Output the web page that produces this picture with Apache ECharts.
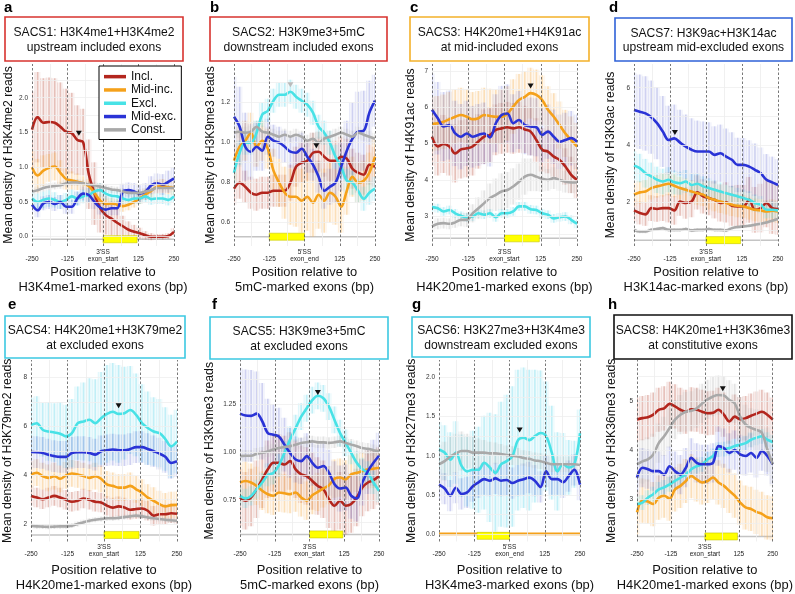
<!DOCTYPE html>
<html>
<head>
<meta charset="utf-8">
<script src="https://cdn.jsdelivr.net/npm/echarts@6.0.0/dist/echarts.min.js"></script>
<style>
html, body { margin: 0; padding: 0; background: #fff; }
#main { width: 795px; height: 594px; }
</style>
</head>
<body>
<div id="main"></div>
<script>
// positions (bp) of every sample along the exon window
var X = [-250,-230,-210,-190,-170,-150,-130,-110,-90,-70,-50,-30,-10,10,30,50,70,90,110,130,150,170,190,210,230,250];

// a - SACS1
var aIncl   = [1.54,1.72,1.64,1.65,1.64,1.58,1.51,1.49,1.39,1.36,0.9,0.62,0.41,0.31,0.26,0.2,0.15,0.1,0.07,0.05,0.02,0.0,0.0,0.0,0.01,0.07];
var aMidinc = [1.0,0.88,0.95,0.99,1.01,0.92,0.83,0.81,0.79,0.77,0.73,0.63,0.52,0.47,0.48,0.46,0.44,0.46,0.5,0.55,0.61,0.66,0.72,0.73,0.71,0.7];
var aExcl   = [0.55,0.5,0.53,0.55,0.53,0.5,0.53,0.58,0.55,0.58,0.6,0.65,0.67,0.62,0.59,0.58,0.55,0.53,0.55,0.55,0.58,0.54,0.55,0.55,0.53,0.58];
var aMidexc = [0.46,0.38,0.48,0.5,0.47,0.5,0.43,0.43,0.55,0.62,0.6,0.5,0.42,0.39,0.41,0.41,0.65,0.67,0.65,0.62,0.65,0.74,0.77,0.75,0.79,0.84];
var aConst  = [0.65,0.67,0.7,0.72,0.73,0.74,0.77,0.78,0.78,0.77,0.75,0.74,0.72,0.7,0.68,0.67,0.65,0.63,0.63,0.63,0.65,0.67,0.7,0.7,0.7,0.7];
var aInclErr   = [0.55,0.65,0.64,0.64,0.64,0.64,0.62,0.58,0.5,0.48,0.5,0.45,0.35,0.28,0.24,0.2,0.15,0.12,0.1,0.08,0.06,0.05,0.04,0.04,0.04,0.05];
var aMidincErr = [0.25,0.24,0.22,0.2,0.2,0.18,0.15,0.13,0.12,0.1,0.1,0.1,0.09,0.08,0.08,0.08,0.08,0.08,0.08,0.08,0.08,0.09,0.1,0.1,0.1,0.1];
var aExclErr   = [0.12,0.12,0.12,0.12,0.11,0.1,0.1,0.1,0.1,0.1,0.1,0.1,0.1,0.09,0.09,0.09,0.08,0.08,0.08,0.08,0.08,0.08,0.08,0.08,0.08,0.08];
var aMidexcErr = [0.1,0.1,0.1,0.1,0.1,0.1,0.1,0.1,0.1,0.1,0.1,0.1,0.1,0.1,0.1,0.1,0.11,0.11,0.12,0.12,0.12,0.13,0.14,0.15,0.16,0.16];
var aConstErr  = [0.05,0.05,0.05,0.05,0.05,0.05,0.05,0.05,0.05,0.05,0.05,0.05,0.05,0.05,0.05,0.05,0.05,0.05,0.05,0.05,0.05,0.05,0.05,0.05,0.05,0.05];

// b - SACS2
var bIncl   = [0.77,0.8,0.78,0.75,0.74,0.75,0.75,0.76,0.76,0.76,0.8,0.88,0.9,0.91,0.95,0.955,0.93,0.91,0.91,0.93,0.92,0.87,0.85,0.84,0.89,0.88];
var bMidinc = [0.91,0.98,1.01,1.05,0.98,1.01,0.97,0.86,0.8,0.75,0.73,0.73,0.71,0.73,0.7,0.74,0.71,0.75,0.73,0.68,0.76,0.83,0.8,0.81,0.85,0.93];
var bExcl   = [0.85,0.95,1.0,1.0,1.05,1.14,1.16,1.21,1.24,1.24,1.255,1.23,1.21,1.19,1.15,1.08,1.05,1.0,0.93,0.88,0.81,0.8,0.76,0.72,0.75,0.77];
var bMidexc = [1.13,1.08,0.98,0.955,0.98,0.96,1.03,1.01,1.0,0.98,0.955,0.95,0.97,0.93,0.89,0.83,0.76,0.78,0.8,0.88,0.96,1.02,1.055,1.06,1.15,1.21];
var bConst  = [1.05,1.055,1.05,1.055,1.08,1.055,1.05,1.04,1.03,1.04,1.03,1.04,1.03,1.01,1.02,1.0,1.02,1.03,1.04,1.05,1.04,1.03,1.05,1.04,1.03,1.02];
var bInclErr   = [0.08,0.08,0.08,0.08,0.08,0.08,0.08,0.08,0.08,0.08,0.09,0.1,0.1,0.1,0.1,0.1,0.1,0.1,0.1,0.1,0.1,0.1,0.1,0.1,0.1,0.1];
var bMidincErr = [0.1,0.1,0.1,0.1,0.1,0.1,0.1,0.11,0.12,0.13,0.14,0.15,0.16,0.17,0.17,0.17,0.16,0.15,0.14,0.13,0.12,0.1,0.1,0.1,0.1,0.1];
var bExclErr   = [0.06,0.06,0.06,0.06,0.06,0.06,0.06,0.06,0.06,0.06,0.06,0.06,0.06,0.06,0.06,0.06,0.06,0.06,0.06,0.06,0.06,0.06,0.06,0.06,0.06,0.06];
var bMidexcErr = [0.2,0.2,0.17,0.14,0.12,0.1,0.09,0.08,0.08,0.08,0.08,0.08,0.08,0.08,0.08,0.08,0.09,0.09,0.1,0.12,0.15,0.18,0.2,0.2,0.16,0.13];
var bConstErr  = [0.03,0.03,0.03,0.03,0.03,0.03,0.03,0.03,0.03,0.03,0.03,0.03,0.03,0.03,0.03,0.03,0.03,0.03,0.03,0.03,0.03,0.03,0.03,0.03,0.03,0.03];

// c - SACS3
var cIncl   = [5.19,4.92,4.99,4.92,4.73,4.84,4.87,4.92,5.06,5.19,5.24,5.38,5.42,5.45,5.42,5.45,5.39,5.33,5.1,4.83,4.78,4.64,4.55,4.37,4.14,4.0];
var cMidinc = [5.54,5.56,5.6,5.67,5.74,5.79,5.74,5.67,5.7,5.79,5.76,5.74,5.74,5.83,6.02,6.2,6.29,6.39,6.34,6.2,5.93,5.74,5.51,5.28,5.1,4.92];
var cExcl   = [3.25,3.22,3.13,3.17,3.08,3.01,2.97,2.99,3.08,3.04,3.08,2.97,3.08,3.08,3.13,3.27,3.27,3.19,3.17,3.08,3.04,2.94,2.97,2.99,2.9,2.79];
var cMidexc = [5.93,5.7,5.47,5.51,5.28,5.19,5.28,5.19,5.24,5.28,5.17,5.56,5.79,5.83,5.56,5.65,5.51,5.47,5.45,5.24,5.33,5.19,5.05,5.1,5.15,5.05];
var cConst  = [2.72,2.79,2.81,2.79,2.83,2.9,2.9,3.08,3.22,3.36,3.5,3.59,3.68,3.72,3.82,3.95,4.09,4.14,4.09,4.03,4.0,4.05,4.0,3.95,3.93,3.93];
var cInclErr   = [0.8,0.8,0.8,0.8,0.8,0.8,0.8,0.8,0.75,0.75,0.75,0.7,0.7,0.7,0.7,0.7,0.65,0.65,0.6,0.6,0.6,0.55,0.55,0.5,0.5,0.5];
var cMidincErr = [0.75,0.75,0.75,0.75,0.75,0.75,0.75,0.75,0.75,0.75,0.75,0.75,0.75,0.75,0.75,0.72,0.7,0.7,0.7,0.68,0.65,0.65,0.65,0.65,0.65,0.65];
var cExclErr   = [0.12,0.12,0.12,0.12,0.12,0.12,0.12,0.12,0.12,0.12,0.12,0.12,0.12,0.12,0.12,0.12,0.12,0.12,0.12,0.12,0.12,0.12,0.12,0.12,0.12,0.12];
var cMidexcErr = [1.0,1.0,0.95,0.95,0.9,0.9,0.9,0.85,0.85,0.85,0.8,0.8,0.8,0.8,0.8,0.8,0.8,0.8,0.8,0.75,0.75,0.75,0.75,0.75,0.75,0.75];
var cConstErr  = [0.15,0.15,0.15,0.15,0.15,0.18,0.2,0.25,0.3,0.35,0.4,0.45,0.5,0.5,0.5,0.5,0.5,0.45,0.4,0.35,0.3,0.3,0.3,0.3,0.3,0.3];

// d - SACS7
var dIncl   = [1.71,1.62,1.57,1.79,1.76,1.79,1.79,1.71,2.02,1.97,2.02,2.34,2.2,2.14,2.08,1.97,1.99,1.87,1.85,1.85,2.08,1.73,1.79,1.97,1.79,1.76];
var dMidinc = [2.26,2.34,2.37,2.49,2.55,2.6,2.64,2.57,2.49,2.43,2.37,2.31,2.26,2.14,2.08,2.02,1.97,1.91,1.87,1.85,1.79,1.73,1.71,1.67,1.7,1.67];
var dExcl   = [3.28,3.19,3.01,2.9,2.78,2.72,2.78,2.69,2.66,2.72,2.6,2.64,2.55,2.49,2.43,2.37,2.31,2.26,2.2,2.14,2.08,1.97,1.91,1.73,1.73,1.71];
var dMidexc = [5.22,5.16,5.1,4.97,4.76,4.47,4.17,4.23,4.08,3.94,3.83,3.77,3.77,3.77,3.65,3.71,3.59,3.48,3.3,3.3,3.24,3.13,3.01,2.78,2.69,2.6];
var dConst  = [1.03,0.97,0.97,1.03,1.06,1.09,1.03,1.03,1.03,1.06,1.01,1.03,1.03,1.06,1.03,1.03,1.01,1.09,1.13,1.15,1.17,1.21,1.24,1.29,1.35,1.41];
var dInclErr   = [0.4,0.4,0.4,0.45,0.45,0.45,0.5,0.5,0.5,0.55,0.55,0.6,0.6,0.6,0.65,0.65,0.7,0.7,0.75,0.75,0.8,0.8,0.85,0.85,0.9,0.9];
var dMidincErr = [0.4,0.4,0.4,0.4,0.4,0.4,0.4,0.4,0.4,0.4,0.4,0.4,0.4,0.4,0.4,0.4,0.4,0.4,0.4,0.4,0.4,0.4,0.4,0.4,0.4,0.4];
var dExclErr   = [0.5,0.5,0.5,0.48,0.46,0.45,0.44,0.42,0.4,0.4,0.38,0.36,0.35,0.34,0.33,0.32,0.3,0.3,0.3,0.3,0.3,0.3,0.3,0.3,0.3,0.3];
var dMidexcErr = [1.3,1.3,1.3,1.28,1.26,1.24,1.2,1.18,1.15,1.12,1.1,1.08,1.05,1.02,1.0,1.0,0.98,0.96,0.95,0.94,0.92,0.92,0.9,0.9,0.9,0.9];
var dConstErr  = [0.06,0.06,0.06,0.06,0.06,0.06,0.06,0.06,0.06,0.06,0.06,0.06,0.06,0.06,0.06,0.06,0.06,0.06,0.06,0.06,0.06,0.06,0.06,0.06,0.06,0.06];

// e - SACS4
var eIncl   = [3.15,3.08,3.01,3.08,3.15,3.08,2.99,2.91,2.95,3.04,2.99,2.91,2.88,2.75,2.67,2.72,2.67,2.58,2.61,2.63,2.54,2.34,2.4,2.4,2.44,2.42];
var eMidinc = [4.03,4.1,3.96,3.89,3.96,3.85,3.99,4.07,4.03,3.96,3.89,3.96,3.85,3.62,3.56,3.49,3.49,3.56,3.42,3.28,3.08,2.95,2.81,2.72,2.77,2.78];
var eExcl   = [6.06,6.13,5.86,5.79,5.75,5.7,5.59,5.72,6.13,6.2,6.27,6.13,6.33,6.51,6.6,6.51,6.54,6.67,6.47,6.13,5.93,5.79,5.72,5.48,5.18,5.38];
var eMidexc = [4.95,4.94,4.91,4.84,4.78,4.75,4.75,4.91,4.94,4.94,4.91,4.84,4.98,5.02,5.05,5.02,5.02,5.07,5.15,5.15,5.07,4.98,4.88,4.75,4.5,4.57];
var eConst  = [1.93,1.9,1.89,1.88,1.89,1.9,1.9,1.93,2.0,2.07,2.13,2.17,2.2,2.23,2.23,2.25,2.28,2.31,2.34,2.31,2.27,2.23,2.2,2.17,2.15,2.13];
var eInclErr   = [0.4,0.4,0.4,0.4,0.4,0.4,0.4,0.4,0.4,0.4,0.4,0.4,0.4,0.4,0.4,0.4,0.4,0.4,0.4,0.4,0.4,0.4,0.4,0.4,0.4,0.4];
var eMidincErr = [0.55,0.55,0.55,0.55,0.55,0.55,0.55,0.55,0.55,0.55,0.55,0.55,0.55,0.55,0.55,0.55,0.55,0.55,0.55,0.55,0.55,0.55,0.55,0.55,0.55,0.55];
var eExclErr   = [1.1,1.1,1.1,1.2,1.2,1.3,1.3,1.4,1.5,1.6,1.7,1.8,1.9,2.0,2.0,2.0,1.9,1.8,1.7,1.6,1.5,1.4,1.4,1.3,1.3,1.3];
var eMidexcErr = [0.65,0.65,0.65,0.65,0.65,0.65,0.65,0.65,0.65,0.65,0.65,0.65,0.65,0.65,0.65,0.65,0.65,0.65,0.65,0.65,0.65,0.65,0.65,0.65,0.65,0.65];
var eConstErr  = [0.1,0.1,0.1,0.1,0.1,0.1,0.1,0.1,0.1,0.1,0.1,0.1,0.1,0.1,0.1,0.1,0.1,0.1,0.1,0.1,0.1,0.1,0.1,0.1,0.1,0.1];

// f - SACS5
var fIncl   = [0.762,0.745,0.762,0.805,0.857,0.909,0.943,0.943,0.934,0.952,0.909,0.883,0.874,0.848,0.822,0.805,0.753,0.719,0.745,0.719,0.728,0.762,0.814,0.84,0.852,0.874];
var fMidinc = [0.84,0.848,0.84,0.822,0.797,0.779,0.771,0.788,0.784,0.779,0.788,0.762,0.745,0.774,0.791,0.809,0.826,0.86,0.866,0.857,0.883,0.891,0.9,0.909,0.912,0.917];
var fExcl   = [0.77,0.757,0.77,0.805,0.84,0.88,0.89,0.93,0.995,1.064,1.124,1.184,1.228,1.27,1.293,1.28,1.236,1.167,1.098,1.047,0.995,0.943,0.909,0.891,0.84,0.797];
var fMidexc = [1.2,1.19,1.188,1.2,1.16,1.098,1.09,1.08,1.038,0.995,0.96,0.952,0.978,0.943,0.917,0.926,0.891,0.831,0.809,0.814,0.771,0.757,0.84,0.9,0.943,0.98];
var fConst  = [0.978,0.98,0.98,0.99,0.995,1.003,1.012,1.02,1.026,1.03,1.038,1.047,1.05,1.055,1.05,1.05,1.047,1.05,1.055,1.047,1.038,1.03,1.02,1.016,1.009,1.003];
var fInclErr   = [0.15,0.15,0.15,0.15,0.15,0.15,0.15,0.15,0.15,0.15,0.15,0.15,0.15,0.15,0.15,0.15,0.15,0.15,0.15,0.15,0.15,0.15,0.15,0.15,0.15,0.15];
var fMidincErr = [0.1,0.1,0.1,0.1,0.1,0.1,0.1,0.1,0.1,0.1,0.1,0.1,0.1,0.1,0.1,0.1,0.1,0.1,0.1,0.1,0.1,0.1,0.1,0.1,0.1,0.1];
var fExclErr   = [0.05,0.05,0.05,0.05,0.05,0.06,0.06,0.06,0.06,0.07,0.07,0.07,0.07,0.07,0.07,0.07,0.07,0.07,0.07,0.07,0.06,0.06,0.06,0.06,0.06,0.06];
var fMidexcErr = [0.24,0.24,0.24,0.22,0.2,0.18,0.16,0.15,0.14,0.13,0.12,0.12,0.12,0.12,0.12,0.12,0.12,0.12,0.12,0.12,0.12,0.12,0.12,0.12,0.12,0.12];
var fConstErr  = [0.03,0.03,0.03,0.03,0.03,0.03,0.03,0.03,0.03,0.03,0.03,0.03,0.03,0.03,0.03,0.03,0.03,0.03,0.03,0.03,0.03,0.03,0.03,0.03,0.03,0.03];

// g - SACS6
var gMidinc = [0,0,0,0,0,0,0,0,0,0,0,0,0,0,0,0,0,0,0,0,0,0,0,0,0,0];
var gExcl   = [1.08,1.04,0.95,1.04,0.87,0.8,0.82,0.82,0.91,0.85,0.78,0.89,0.93,0.99,1.2,1.23,1.2,1.25,1.29,1.25,1.04,0.8,0.89,0.85,0.89,1.29];
var gMidexc = [0.63,0.58,0.49,0.59,0.51,0.53,0.61,0.66,0.7,0.68,0.71,0.68,0.69,0.65,0.68,0.7,0.72,0.68,0.6,0.8,0.7,0.7,0.66,0.74,0.82,0.63];
var gConst  = [0.89,0.93,0.99,1.03,1.06,1.06,1.04,1.04,1.04,1.03,1.03,1.02,1.01,1.0,0.99,0.97,0.96,0.94,0.93,0.91,0.89,0.89,0.89,0.89,0.89,0.88];
var gMidincErr = [0,0,0,0,0,0,0,0,0,0,0,0,0,0,0,0,0,0,0,0,0,0,0,0,0,0];
var gExclErr   = [0.35,0.35,0.35,0.4,0.4,0.45,0.5,0.55,0.6,0.7,0.75,0.8,0.85,0.9,0.9,0.9,0.9,0.85,0.8,0.7,0.6,0.5,0.4,0.35,0.3,0.3];
var gMidexcErr = [0.2,0.2,0.2,0.2,0.2,0.2,0.2,0.2,0.2,0.2,0.2,0.2,0.2,0.2,0.2,0.2,0.2,0.2,0.2,0.2,0.2,0.2,0.2,0.2,0.2,0.2];
var gConstErr  = [0.25,0.25,0.25,0.25,0.25,0.22,0.2,0.18,0.16,0.15,0.14,0.13,0.12,0.12,0.11,0.1,0.1,0.1,0.1,0.1,0.1,0.1,0.1,0.1,0.1,0.1];

// h - SACS8
var hIncl   = [4.62,4.65,4.67,4.72,4.82,4.85,4.94,4.89,4.82,4.78,4.83,4.82,4.78,4.75,4.76,4.82,4.72,4.58,4.68,4.63,4.65,4.7,4.74,4.78,4.72,4.62];
var hMidinc = [2.73,2.97,2.95,2.9,3.03,3.07,3.01,3.2,3.27,3.37,3.47,3.4,3.34,3.37,3.44,3.34,3.27,3.17,3.07,2.93,2.83,2.8,2.74,2.7,2.63,2.61];
var hExcl   = [2.9,2.93,3.03,3.1,3.2,3.24,3.3,3.37,3.44,3.5,3.61,3.67,3.71,3.81,3.88,4.01,4.02,4.04,4.08,4.11,4.14,4.21,4.25,4.28,4.21,4.16];
var hMidexc = [3.44,3.64,3.61,3.57,3.57,3.5,3.67,3.57,3.5,3.64,3.84,3.74,3.71,3.71,3.74,4.08,4.04,3.94,4.0,3.91,3.88,3.94,3.84,3.98,3.88,3.71];
var hConst  = [3.71,3.77,3.81,3.91,4.14,4.28,4.45,4.62,4.72,4.78,4.8,4.85,4.95,5.03,5.09,5.12,5.11,5.02,4.95,4.68,4.52,4.45,4.41,4.35,4.01,3.71];
var hInclErr   = [0.45,0.45,0.45,0.45,0.45,0.45,0.45,0.45,0.45,0.45,0.45,0.45,0.45,0.45,0.45,0.45,0.45,0.45,0.45,0.45,0.45,0.45,0.45,0.45,0.45,0.45];
var hMidincErr = [0.45,0.45,0.45,0.45,0.45,0.45,0.45,0.45,0.45,0.45,0.45,0.45,0.45,0.45,0.45,0.45,0.45,0.45,0.45,0.45,0.45,0.45,0.45,0.45,0.45,0.45];
var hExclErr   = [0.15,0.15,0.15,0.15,0.15,0.15,0.15,0.15,0.15,0.15,0.15,0.15,0.15,0.15,0.15,0.15,0.15,0.15,0.15,0.15,0.15,0.15,0.15,0.15,0.15,0.15];
var hMidexcErr = [0.4,0.4,0.4,0.4,0.4,0.4,0.4,0.4,0.4,0.4,0.4,0.4,0.4,0.4,0.4,0.4,0.4,0.4,0.4,0.4,0.4,0.4,0.4,0.4,0.4,0.4];
var hConstErr  = [0.45,0.45,0.45,0.42,0.4,0.4,0.4,0.4,0.4,0.4,0.4,0.4,0.4,0.4,0.4,0.4,0.4,0.4,0.4,0.4,0.4,0.4,0.42,0.45,0.45,0.45];

var NAMES = ['Incl.', 'Mid-inc.', 'Excl.', 'Mid-exc.', 'Const.'];
var COLORS = { 'Incl.': '#b3261e', 'Mid-inc.': '#f5a11a', 'Excl.': '#48e2e6', 'Mid-exc.': '#2a33d6', 'Const.': '#a9a9a9' };
// stripe colour and the faint fill between stripes
var STRIPE = { 'Incl.': 'rgba(185,80,60,0.30)', 'Mid-inc.': 'rgba(248,180,90,0.36)', 'Excl.': 'rgba(110,220,235,0.36)',
               'Mid-exc.': 'rgba(100,110,210,0.26)', 'Const.': 'rgba(185,185,185,0.32)' };
var FILL = { 'Incl.': 'rgba(185,80,60,0.08)', 'Mid-inc.': 'rgba(248,180,90,0.10)', 'Excl.': 'rgba(110,220,235,0.10)',
             'Mid-exc.': 'rgba(100,110,210,0.07)', 'Const.': 'rgba(185,185,185,0.09)' };
var FONT = 'Liberation Sans, Arial, sans-serif';

var panels = [
  { letter: 'a', lp: [4, 0], title: 'SACS1: H3K4me1+H3K4me2\nupstream included exons', box: [5, 17, 178, 44], boxColor: '#d7332f',
    grid: [32, 64, 142, 182], y: [-0.134, 2.485], ticks: [0, 0.5, 1, 1.5, 2], minor: [0.25, 0.75, 1.25, 1.75, 2.25], dec: 1,
    yName: 'Mean density of H3K4me2 reads', yGap: 16, xName: 'Position relative to\nH3K4me1-marked exons (bp)', xGap: 19,
    zero: "3'SS\nexon_start", exon: [0, 120], base: -0.037, exonDy: 0,
    lines: [['Incl.', aIncl, aInclErr], ['Mid-inc.', aMidinc, aMidincErr], ['Excl.', aExcl, aExclErr], ['Mid-exc.', aMidexc, aMidexcErr], ['Const.', aConst, aConstErr]],
    marks: [[-85, 1.49, '#111']] },
  { letter: 'b', lp: [210, 0], title: 'SACS2: H3K9me3+5mC\ndownstream included exons', box: [210, 17, 177, 44], boxColor: '#d7332f',
    grid: [234, 64, 141, 182], y: [0.4835, 1.3935], ticks: [0.6, 0.8, 1.0, 1.2], minor: [0.7, 0.9, 1.1, 1.3], dec: 1,
    yName: 'Mean density of H3K9me3 reads', yGap: 17, xName: 'Position relative to\n5mC-marked exons (bp)', xGap: 19,
    zero: "5'SS\nexon_end", exon: [-125, 0], base: 0.53, exonDy: 0,
    lines: [['Incl.', bIncl, bInclErr], ['Mid-inc.', bMidinc, bMidincErr], ['Excl.', bExcl, bExclErr], ['Mid-exc.', bMidexc, bMidexcErr], ['Const.', bConst, bConstErr]],
    marks: [[42, 0.985, '#111'], [-50, 1.29, '#bbbbbb']] },
  { letter: 'c', lp: [410, 0], title: 'SACS3: H4K20me1+H4K91ac\nat mid-included exons', box: [410, 17, 179, 44], boxColor: '#f4b12a',
    grid: [432, 64, 145, 182], y: [2.179, 7.193], ticks: [3, 4, 5, 6, 7], minor: [2.5, 3.5, 4.5, 5.5, 6.5], dec: 0,
    yName: 'Mean density of H4K91ac reads', yGap: 15, xName: 'Position relative to\nH4K20me1-marked exons (bp)', xGap: 19,
    zero: "3'SS\nexon_start", exon: [0, 120], base: 2.39, exonDy: 0,
    lines: [['Incl.', cIncl, cInclErr], ['Mid-inc.', cMidinc, cMidincErr], ['Excl.', cExcl, cExclErr], ['Mid-exc.', cMidexc, cMidexcErr], ['Const.', cConst, cConstErr]],
    marks: [[90, 6.59, '#111']] },
  { letter: 'd', lp: [609, 0], title: 'SACS7: H3K9ac+H3K14ac\nupstream mid-excluded exons', box: [615, 18, 177, 43], boxColor: '#2f62d8',
    grid: [634, 64, 144, 182], y: [0.465, 6.829], ticks: [2, 4, 6], minor: [1, 3, 5], dec: 0,
    yName: 'Mean density of H3K9ac reads', yGap: 17, xName: 'Position relative to\nH3K14ac-marked exons (bp)', xGap: 19,
    zero: "3'SS\nexon_start", exon: [0, 120], base: 0.67, exonDy: 0,
    lines: [['Incl.', dIncl, dInclErr], ['Mid-inc.', dMidinc, dMidincErr], ['Excl.', dExcl, dExclErr], ['Mid-exc.', dMidexc, dMidexcErr], ['Const.', dConst, dConstErr]],
    marks: [[-108, 4.43, '#111']] },
  { letter: 'e', lp: [8, 297], title: 'SACS4: H4K20me1+H3K79me2\nat excluded exons', box: [5, 316, 180, 42], boxColor: '#3cc9e2',
    grid: [31, 360, 146, 183], y: [1.28, 8.72], ticks: [2, 4, 6, 8], minor: [3, 5, 7], dec: 0,
    yName: 'Mean density of H3K79me2 reads', yGap: 17, xName: 'Position relative to\nH4K20me1-marked exons (bp)', xGap: 21.5,
    zero: "3'SS\nexon_start", exon: [0, 120], base: 1.55, exonDy: 0,
    lines: [['Incl.', eIncl, eInclErr], ['Mid-inc.', eMidinc, eMidincErr], ['Excl.', eExcl, eExclErr], ['Mid-exc.', eMidexc, eMidexcErr], ['Const.', eConst, eConstErr]],
    marks: [[50, 6.84, '#111']] },
  { letter: 'f', lp: [212, 297], title: 'SACS5: H3K9me3+5mC\nat excluded exons', box: [210, 317, 178, 42], boxColor: '#3cc9e2',
    grid: [240, 360, 139, 183], y: [0.532, 1.48], ticks: [0.75, 1.0, 1.25], minor: [0.625, 0.875, 1.125, 1.375], dec: 2,
    yName: 'Mean density of H3K9me3 reads', yGap: 24, xName: 'Position relative to\n5mC-marked exons (bp)', xGap: 21.5,
    zero: "3'SS\nexon_start", exon: [0, 120], base: 0.569, exonDy: 0,
    lines: [['Incl.', fIncl, fInclErr], ['Mid-inc.', fMidinc, fMidincErr], ['Excl.', fExcl, fExclErr], ['Mid-exc.', fMidexc, fMidexcErr], ['Const.', fConst, fConstErr]],
    marks: [[30, 1.31, '#111']] },
  { letter: 'g', lp: [412, 297], title: 'SACS6: H3K27me3+H3K4me3\ndownstream excluded exons', box: [412, 317, 178, 40], boxColor: '#3cc9e2',
    grid: [439, 360, 141, 183], y: [-0.098, 2.225], ticks: [0, 0.5, 1.0, 1.5, 2.0], minor: [0.25, 0.75, 1.25, 1.75], dec: 1,
    yName: 'Mean density of H3K27me3 reads', yGap: 21, xName: 'Position relative to\nH3K4me3-marked exons (bp)', xGap: 21.5,
    zero: "5'SS\nexon_end", exon: [-115, 0], base: 0, exonDy: 2,
    lines: [['Mid-inc.', gMidinc, gMidincErr], ['Excl.', gExcl, gExclErr], ['Mid-exc.', gMidexc, gMidexcErr], ['Const.', gConst, gConstErr]],
    marks: [[36, 1.33, '#111']] },
  { letter: 'h', lp: [608, 297], title: 'SACS8: H4K20me1+H3K36me3\nat constitutive exons', box: [614, 315, 178, 44], boxColor: '#111111',
    grid: [637, 360, 145, 183], y: [2.137, 5.834], ticks: [3, 4, 5], minor: [2.5, 3.5, 4.5, 5.5], dec: 0,
    yName: 'Mean density of H3K36me3 reads', yGap: 19, xName: 'Position relative to\nH4K20me1-marked exons (bp)', xGap: 21.5,
    zero: "3'SS\nexon_start", exon: [0, 120], base: 2.24, exonDy: 0,
    lines: [['Incl.', hIncl, hInclErr], ['Mid-inc.', hMidinc, hMidincErr], ['Excl.', hExcl, hExclErr], ['Mid-exc.', hMidexc, hMidexcErr], ['Const.', hConst, hConstErr]],
    marks: [[66, 5.25, '#111']] }
];

var grids = [], xAxes = [], yAxes = [], series = [], graphics = [];

panels.forEach(function (p, gi) {
  grids.push({ left: p.grid[0], top: p.grid[1], width: p.grid[2], height: p.grid[3] });

  xAxes.push({
    type: 'value', gridIndex: gi, min: -250, max: 250,
    axisLine: { show: false }, axisTick: { show: false }, splitLine: { show: false },
    axisLabel: {
      customValues: [-250, -125, 0, 125, 250], margin: 2.5, fontSize: 6.5, lineHeight: 7, color: '#222', fontFamily: FONT,
      formatter: function (v) { return v === 0 ? p.zero : '\n' + v; }
    },
    name: p.xName, nameLocation: 'middle', nameGap: p.xGap,
    nameTextStyle: { fontSize: 12.9, lineHeight: 15, color: '#111', fontFamily: FONT }
  });

  yAxes.push({
    type: 'value', gridIndex: gi, min: p.y[0], max: p.y[1],
    axisLine: { show: false }, axisTick: { show: false }, splitLine: { show: false },
    axisLabel: {
      customValues: p.ticks, margin: 4, fontSize: 6.5, color: '#333', fontFamily: FONT,
      formatter: function (v) { return v.toFixed(p.dec); }
    },
    name: p.yName, nameLocation: 'middle', nameGap: p.yGap,
    nameTextStyle: { fontSize: 12.2, color: '#111', fontFamily: FONT }
  });

  // grid lines, base line and peak markers
  var ml = [];
  p.ticks.concat(p.minor).forEach(function (v) {
    ml.push({ yAxis: v, lineStyle: { color: '#efefef', width: 0.8, type: 'solid' } });
  });
  [-187.5, -62.5, 62.5, 187.5].forEach(function (v) {
    ml.push({ xAxis: v, lineStyle: { color: '#ececec', width: 0.8, type: 'solid' } });
  });
  [-250, -125, 0, 125, 250].forEach(function (v) {
    ml.push({ xAxis: v, lineStyle: { color: '#555', width: 0.8, type: [2.5, 2] } });
  });
  series.push({
    type: 'line', name: 'base' + gi, xAxisIndex: gi, yAxisIndex: gi, silent: true, z: 0,
    data: [[-250, p.base], [250, p.base]], showSymbol: false,
    lineStyle: { color: '#c4c4c4', width: 1.5 },
    markLine: { silent: true, symbol: ['none', 'none'], label: { show: false }, data: ml, animation: false },
    markPoint: {
      silent: true, label: { show: false },
      data: p.marks.map(function (m) {
        return { coord: [m[0], m[1]], symbol: 'triangle', symbolSize: [6, 5], symbolRotate: 180, itemStyle: { color: m[2] } };
      })
    }
  });

  // error stripes: faint cell plus a vertical stripe at each sample
  p.lines.forEach(function (l) {
    var name = l[0], mean = l[1], err = l[2];
    series.push({
      type: 'custom', name: name + ' sd', xAxisIndex: gi, yAxisIndex: gi, silent: true, z: 1, clip: true,
      encode: { x: 0, y: [1, 2] },
      data: X.map(function (x, i) { return [x, mean[i] - err[i], mean[i] + err[i]]; }),
      renderItem: function (params, api) {
        var lo = api.coord([api.value(0), api.value(1)]);
        var hi = api.coord([api.value(0), api.value(2)]);
        var w = api.size([20, 0])[0];
        return { type: 'group', children: [
          { type: 'rect', shape: { x: lo[0] - w / 2, y: hi[1], width: w, height: lo[1] - hi[1] }, style: { fill: FILL[name] } },
          { type: 'line', shape: { x1: lo[0], y1: lo[1], x2: hi[0], y2: hi[1] }, style: { stroke: STRIPE[name], lineWidth: 1.6 } },
          { type: 'line', shape: { x1: lo[0] - w / 2, y1: lo[1], x2: hi[0] - w / 2, y2: hi[1] }, style: { stroke: STRIPE[name], lineWidth: 0.8, opacity: 0.6 } }
        ] };
      }
    });
  });

  // mean lines
  p.lines.forEach(function (l) {
    series.push({
      type: 'line', name: l[0], xAxisIndex: gi, yAxisIndex: gi, silent: true, z: 2,
      data: X.map(function (x, i) { return [x, l[1][i]]; }),
      showSymbol: false, smooth: 0.35,
      lineStyle: { color: COLORS[l[0]], width: 2.6 }, itemStyle: { color: COLORS[l[0]] }
    });
  });

  // exon box
  series.push({
    type: 'custom', name: 'exon' + gi, xAxisIndex: gi, yAxisIndex: gi, silent: true, z: 3,
    encode: { x: [0, 1], y: 2 },
    data: [[p.exon[0], p.exon[1], p.base]],
    renderItem: function (params, api) {
      var a = api.coord([api.value(0), api.value(2)]);
      var b = api.coord([api.value(1), api.value(2)]);
      return { type: 'rect', shape: { x: a[0], y: a[1] - 3.5 + p.exonDy, width: b[0] - a[0], height: 7 },
               style: { fill: '#ffff00', stroke: '#c8c800', lineWidth: 0.6 } };
    }
  });

  graphics.push({ type: 'text', left: p.lp[0], top: p.lp[1],
    style: { text: p.letter, fontSize: 15, fontWeight: 'bold', fontFamily: FONT, fill: '#000' } });
  graphics.push({ type: 'rect', shape: { x: p.box[0], y: p.box[1], width: p.box[2], height: p.box[3] },
    style: { fill: '#fff', stroke: p.boxColor, lineWidth: 1.6 } });
  graphics.push({ type: 'text', x: p.box[0] + p.box[2] / 2, y: p.box[1] + p.box[3] / 2 + 1,
    style: { text: p.title, align: 'center', verticalAlign: 'middle', fontSize: 12.1, lineHeight: 14.5, fontFamily: FONT, fill: '#111' } });
});

var chart = echarts.init(document.getElementById('main'));
chart.setOption({
  animation: false,
  backgroundColor: '#fff',
  grid: grids,
  xAxis: xAxes,
  yAxis: yAxes,
  legend: {
    data: NAMES.map(function (n) { return { name: n, itemStyle: { color: COLORS[n] } }; }),
    left: 99, top: 66, orient: 'vertical', icon: 'rect', itemWidth: 22, itemHeight: 3.5, itemGap: 0,
    padding: [4, 5, 3, 5], borderColor: '#000', borderWidth: 1, backgroundColor: '#fff',
    selectedMode: false, z: 10,
    textStyle: { fontSize: 12, lineHeight: 13.3, color: '#111', fontFamily: FONT }
  },
  graphic: graphics,
  series: series
});
</script>
</body>
</html>
